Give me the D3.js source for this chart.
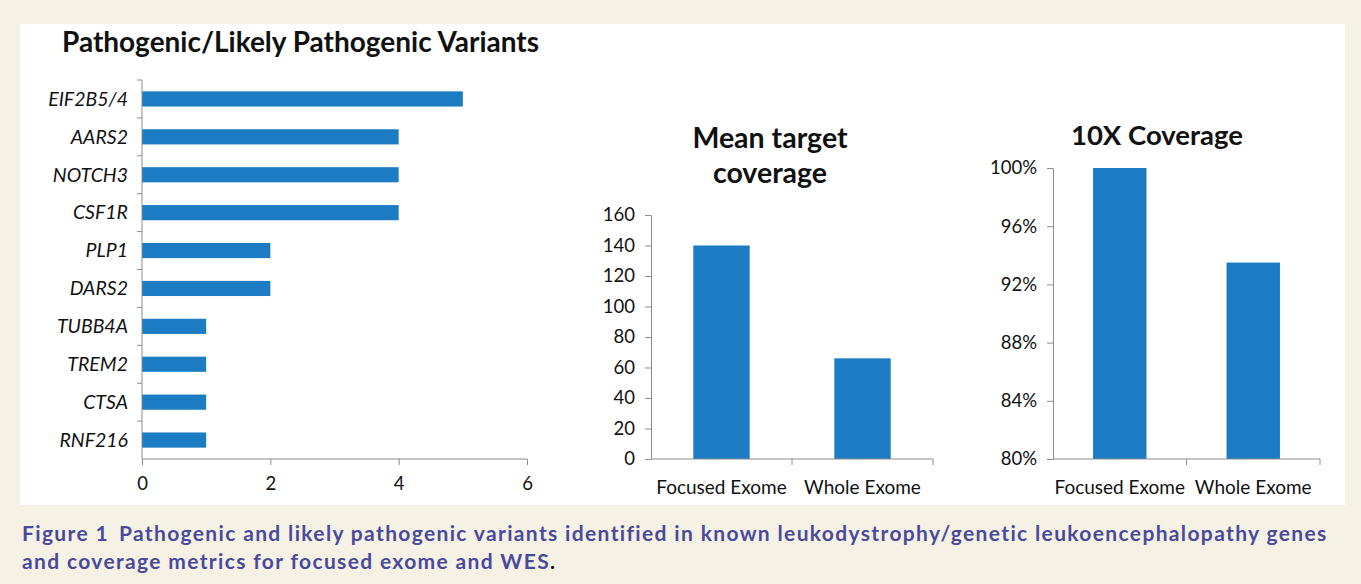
<!DOCTYPE html>
<html>
<head>
<meta charset="utf-8">
<script src="https://cdn.jsdelivr.net/npm/d3@7"></script>
<style>
  body { margin: 0; background: #f5f1e4; }
  svg { display: block; }
  text { font-family: Lato, "Open Sans", sans-serif; fill: #111; }
  .axis path, .axis line { stroke: #8c8c8c; }
  .caption { font-family: Lato, sans-serif; font-weight: bold; fill: #4a4a9c; font-size: 21px; letter-spacing: 1.35px; }
</style>
</head>
<body>
<svg id="fig"></svg>
<script>
// data
let genes = ['EIF2B5/4', 'AARS2', 'NOTCH3', 'CSF1R', 'PLP1', 'DARS2', 'TUBB4A', 'TREM2', 'CTSA', 'RNF216']
let variantCounts = [5, 4, 4, 4, 2, 2, 1, 1, 1, 1]
let exomeTypes = ['Focused Exome', 'Whole Exome']
let meanCoverage = [140, 66]
let tenXCoverage = [1.0, 0.935]
let countTicks = [0, 2, 4, 6]
let meanTicks = [0, 20, 40, 60, 80, 100, 120, 140, 160]
let pctTicks = [0.80, 0.84, 0.88, 0.92, 0.96, 1.0]

let width = 1361
let height = 584
let barColor = '#1b7bc3'

let svg = d3.select('#fig')
  .attr('width', width)
  .attr('height', height)

svg.append('rect')
  .attr('x', 0).attr('y', 0)
  .attr('width', width).attr('height', height)
  .attr('fill', '#f5f1e4')

// white panel behind the charts
svg.append('rect')
  .attr('x', 20).attr('y', 24)
  .attr('width', 1325).attr('height', 481)
  .attr('fill', '#fff')

// --- left: horizontal bars ---
let x1 = d3.scaleLinear().domain([0, 6]).range([142, 527])
let y1 = d3.scaleBand().domain(genes).range([80, 459]).paddingInner(0.6).paddingOuter(0.3)
let y1Ticks = d3.scaleBand().domain(genes).range([80, 459])

svg.append('text')
  .attr('x', 62).attr('y', 52)
  .attr('font-size', 28).attr('font-weight', 'bold')
  .text('Pathogenic/Likely Pathogenic Variants')

svg.append('g')
  .selectAll('rect')
  .data(genes)
  .enter()
  .append('rect')
  .attr('x', x1(0))
  .attr('y', (d) => y1(d))
  .attr('width', (d, i) => x1(variantCounts[i]) - x1(0))
  .attr('height', y1.bandwidth())
  .attr('fill', barColor)

// y axis with ticks between categories
let yAx = svg.append('g').attr('class', 'axis')
yAx.append('line')
  .attr('x1', x1(0)).attr('x2', x1(0))
  .attr('y1', 80).attr('y2', 459)
yAx.selectAll('line.tk')
  .data(genes)
  .enter()
  .append('line')
  .attr('class', 'tk')
  .attr('x1', x1(0) - 5).attr('x2', x1(0))
  .attr('y1', (d) => y1Ticks(d)).attr('y2', (d) => y1Ticks(d))
svg.append('g')
  .selectAll('text')
  .data(genes)
  .enter()
  .append('text')
  .attr('x', 128)
  .attr('y', (d) => y1Ticks(d) + y1Ticks.bandwidth() / 2)
  .attr('dy', '0.35em')
  .attr('text-anchor', 'end')
  .attr('font-size', 19.5)
  .attr('font-style', 'italic')
  .text((d) => d)

let xAx1 = svg.append('g')
  .attr('class', 'axis')
  .attr('transform', 'translate(0,459)')
  .call(d3.axisBottom(x1).tickValues(countTicks).tickFormat(d3.format('d')).tickSize(6).tickSizeOuter(0).tickPadding(12))
xAx1.selectAll('text').attr('font-size', 18.5).attr('font-family', 'Lato, sans-serif').attr('fill', '#111')
xAx1.select('.domain').attr('d', 'M' + x1(0) + ',0H' + x1(6))

// --- column charts on the right ---
function columnChart(opts) {
  let x = d3.scaleBand().domain(exomeTypes).range([opts.x0, opts.x1]).paddingInner(0.6).paddingOuter(0.3)
  let xb = d3.scaleBand().domain(exomeTypes).range([opts.x0, opts.x1])
  let y = d3.scaleLinear().domain(opts.domain).range([459, opts.top])

  opts.title.forEach((t, i) => {
    svg.append('text')
      .attr('x', opts.titleX)
      .attr('y', opts.titleY + i * 35)
      .attr('text-anchor', 'middle')
      .attr('font-size', opts.titleSize)
      .attr('font-weight', 'bold')
      .text(t)
  })

  svg.append('g')
    .selectAll('rect')
    .data(exomeTypes)
    .enter()
    .append('rect')
    .attr('x', (d) => x(d))
    .attr('y', (d, i) => y(opts.values[i]))
    .attr('width', x.bandwidth())
    .attr('height', (d, i) => y(opts.domain[0]) - y(opts.values[i]))
    .attr('fill', barColor)

  let ya = svg.append('g')
    .attr('class', 'axis')
    .attr('transform', `translate(${opts.x0},0)`)
    .call(d3.axisLeft(y).tickValues(opts.ticks).tickFormat(opts.fmt).tickSize(6).tickSizeOuter(0).tickPadding(10))
  ya.selectAll('text').attr('font-size', 18.5).attr('font-family', 'Lato, sans-serif').attr('fill', '#111')

  let xa = svg.append('g').attr('class', 'axis')
  xa.append('line')
    .attr('x1', opts.x0).attr('x2', opts.x1)
    .attr('y1', 459).attr('y2', 459)
  xa.selectAll('line.tk')
    .data([opts.x0 + xb.bandwidth(), opts.x1])
    .enter()
    .append('line')
    .attr('class', 'tk')
    .attr('x1', (d) => d).attr('x2', (d) => d)
    .attr('y1', 459).attr('y2', 465)
  svg.append('g')
    .selectAll('text')
    .data(exomeTypes)
    .enter()
    .append('text')
    .attr('x', (d) => xb(d) + xb.bandwidth() / 2)
    .attr('y', 494)
    .attr('text-anchor', 'middle')
    .attr('font-size', 19)
    .text((d) => d)
}

columnChart({
  x0: 651, x1: 933, top: 215,
  domain: [0, 160], values: meanCoverage, ticks: meanTicks,
  fmt: d3.format('d'),
  title: ['Mean target', 'coverage'], titleX: 770, titleY: 148, titleSize: 28.5
})

columnChart({
  x0: 1053, x1: 1320, top: 168,
  domain: [0.8, 1.0], values: tenXCoverage, ticks: pctTicks,
  fmt: d3.format('.0%'),
  title: ['10X Coverage'], titleX: 1157, titleY: 145, titleSize: 27.5
})

// caption
let cap = svg.append('text').attr('class', 'caption').attr('x', 22).attr('y', 541)
cap.append('tspan').text('Figure 1')
cap.append('tspan').attr('dx', 10).text('Pathogenic and likely pathogenic variants identified in known leukodystrophy/genetic leukoencephalopathy genes')
let cap2 = svg.append('text').attr('class', 'caption').attr('x', 22).attr('y', 569)
cap2.append('tspan').text('and coverage metrics for focused exome and WES')
cap2.append('tspan').attr('fill', '#111').text('.')
</script>
</body>
</html>
